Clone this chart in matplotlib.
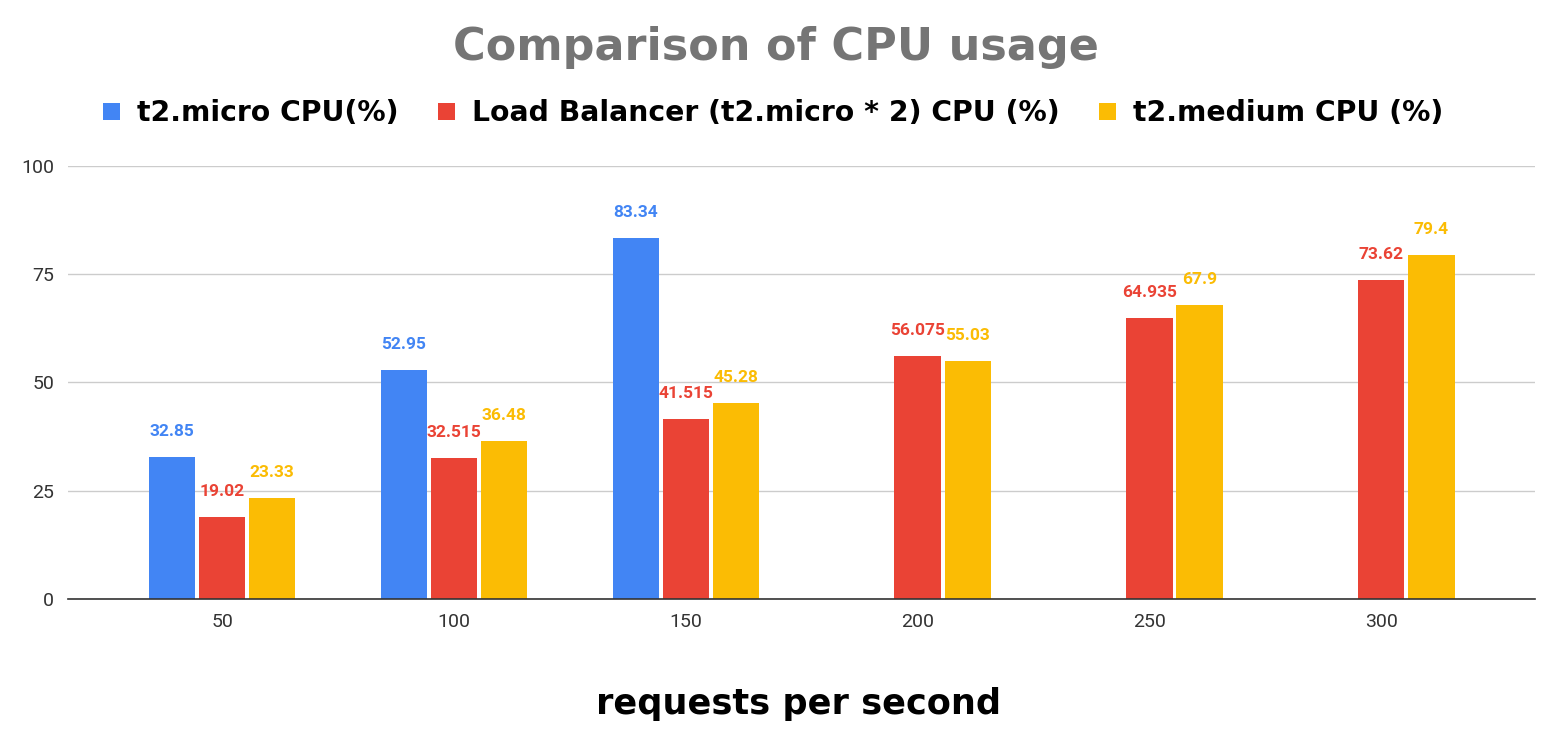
import numpy as np
import matplotlib
matplotlib.use('Agg')
import matplotlib.pyplot as plt

categories = ['50', '100', '150', '200', '250', '300']
series_names = ['t2.micro CPU(%)', 'Load Balancer (t2.micro * 2) CPU (%)', 't2.medium CPU (%)']
micro = [32.85, 52.95, 83.34, np.nan, np.nan, np.nan]
balancer = [19.02, 32.515, 41.515, 56.075, 64.935, 73.62]
medium = [23.33, 36.48, 45.28, 55.03, 67.9, 79.4]

colors = ['#4285F4', '#EA4335', '#FBBC04']

plt.rcParams['font.family'] = ['Roboto', 'DejaVu Sans']
heavy = ['DejaVu Sans']

fig = plt.figure(figsize=(15.62, 7.51), dpi=100)
ax = fig.add_axes([0.0435, 0.2024, 0.9395, 0.5766])

index = np.arange(len(categories))
bar_width = 0.2
step = 0.216

for i, vals in enumerate([micro, balancer, medium]):
    xs = index + (i - 1) * step
    ax.bar(xs, vals, bar_width, color=colors[i], label=series_names[i], zorder=3)
    for x, v in zip(xs, vals):
        if np.isnan(v):
            continue
        ax.annotate('%g' % v, (x, v), xytext=(0, 13), textcoords='offset points',
                    ha='center', va='bottom', color=colors[i],
                    fontsize=12.5, fontweight='bold')

ax.set_xlim(-0.665, 5.665)
ax.set_ylim(0, 100)
ax.set_yticks([0, 25, 50, 75, 100])
ax.set_xticks(index)
ax.set_xticklabels(categories)
ax.tick_params(axis='both', length=0, labelsize=14, colors='#333333', pad=10)
ax.grid(axis='y', color='#cccccc', linewidth=1, zorder=0)
for s in ['top', 'right', 'left']:
    ax.spines[s].set_visible(False)
ax.spines['bottom'].set_color('#333333')
ax.spines['bottom'].set_linewidth(1.2)
ax.spines['bottom'].set_zorder(4)

fig.text(0.4965, 0.937, 'Comparison of CPU usage', ha='center', va='center',
         fontsize=32, fontweight='heavy', family=heavy, color='#757575')
fig.text(0.5115, 0.062, 'requests per second', ha='center', va='center',
         fontsize=25.3, fontweight='heavy', family=heavy, color='black')

leg = fig.legend(loc='center', bbox_to_anchor=(0.495, 0.849), ncol=3, frameon=False,
                 prop={'size': 20.3, 'weight': 'heavy', 'family': heavy},
                 handlelength=0.6, handleheight=0.6, handletextpad=0.6,
                 columnspacing=1.4)

plt.savefig('out.png', dpi=100)
